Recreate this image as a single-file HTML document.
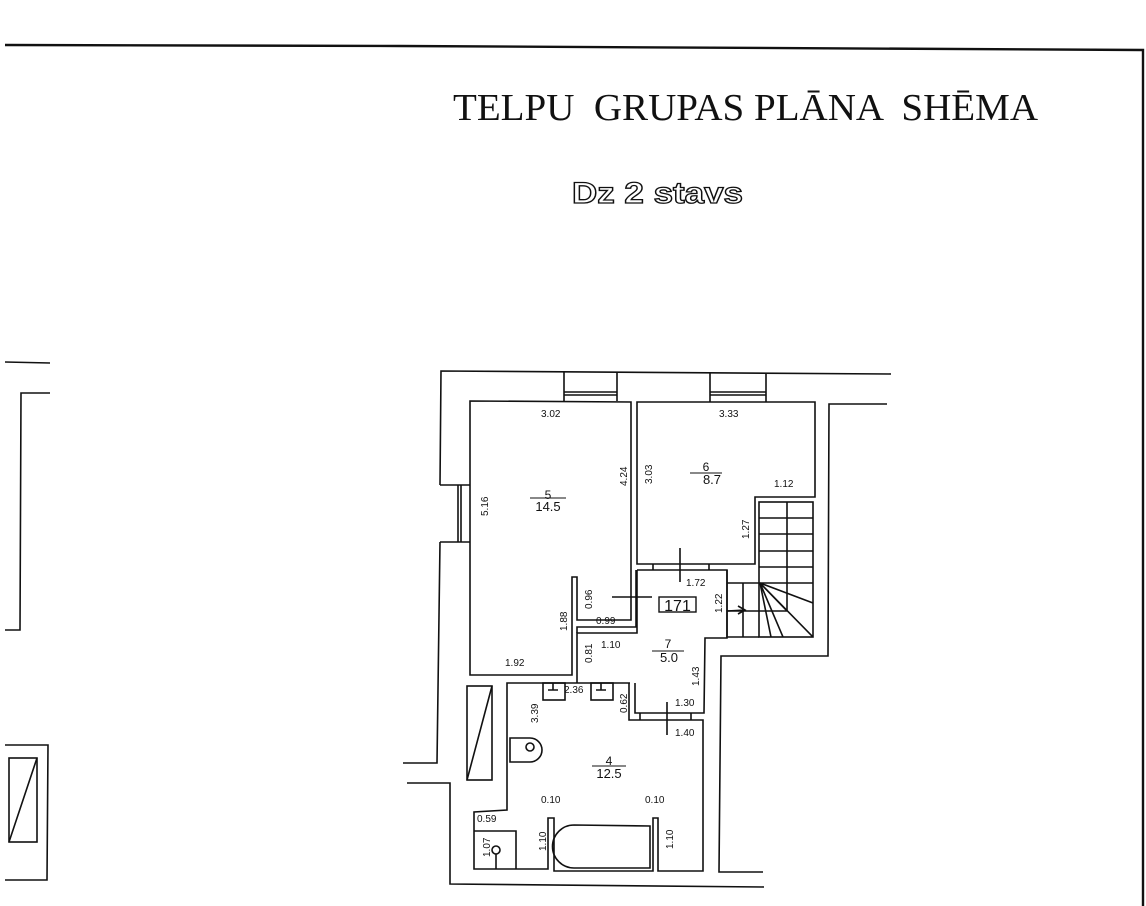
<!DOCTYPE html>
<html><head><meta charset="utf-8"><style>
html,body{margin:0;padding:0;background:#fff;}
svg{display:block;}
text{font-family:"Liberation Sans",sans-serif;}
</style></head><body>
<svg width="1146" height="906" viewBox="0 0 1146 906" xmlns="http://www.w3.org/2000/svg">
<g stroke="#111" fill="none" stroke-width="1.6">
<path d="M5 45 L400 46 L1143 50 L1143 906" stroke-width="2.4"/>
<path d="M5 362 L50 363"/>
<path d="M50 393 L21 393 L20 630 L5 630"/>
<path d="M5 745 L48 745 L47 880 L5 880"/>
<rect x="9" y="758" width="28" height="84"/>
<path d="M9 842 L37 758"/>
<path d="M891 374 L441 371 L440 485"/>
<path d="M440 542 L437 763 L403 763"/>
<path d="M407 783 L450 783 L450 884 L764 887"/>
<path d="M887 404 L829 404 L828 656 L721 656 L719 872 L763 872"/>
<path d="M440 485 L470 485 M440 542 L470 542 M458 485 L458 542 M461 485 L461 542"/>
<path d="M564 372 L564 401 M617 372 L617 401 M564 392 L617 392 M564 395 L617 395"/>
<path d="M710 373 L710 402 M766 373 L766 402 M710 392 L766 392 M710 395 L766 395"/>
<!-- room 5 -->
<path d="M470 401 L631 402 L631 620 L577 620 L577 577 L572 577 L572 675 L470 675 Z"/>
<path d="M636 570 L636 627 L577 627 L577 633"/>
<!-- room 6 -->
<path d="M637 402 L815 402 L815 497 L755 497 L755 564 L637 564 Z"/>
<path d="M653 564 L653 570 M709 564 L709 570"/>
<!-- room 7 -->
<path d="M637 570 L727 570 L727 638 L705 638 L704 713 L635 713 L635 683"/>
<path d="M637 570 L637 633 L577 633 L577 683"/>
<path d="M630 683 L507 683 L507 810 L474 812 L474 869 L548 869 L548 818 L554 818 L554 871 L653 871 L653 818 L658 818 L658 871 L703 871 L703 720 L629 720 L629 683"/>
<path d="M640 713 L640 720 M691 713 L691 720"/>
<rect x="543" y="683" width="22" height="17"/>
<rect x="591" y="683" width="22" height="17"/>
<path d="M548 690 L558 690 M553 683 L553 690 M596 690 L606 690 M601 683 L601 690"/>
<path d="M510 738 L530 738 A12 12 0 0 1 530 762 L510 762 Z"/>
<circle cx="530" cy="747" r="4"/>
<path d="M474 831 L516 831 L516 869"/>
<circle cx="496" cy="850" r="4"/>
<path d="M496 854 L496 869"/>
<path d="M574 825 L650 826 L650 868 L574 868 A21 21 0 0 1 574 825 Z"/>
<rect x="467" y="686" width="25" height="94"/>
<path d="M467 780 L492 686"/>
<rect x="759" y="502" width="54" height="135"/>
<path d="M759 518 L813 518 M759 534 L813 534 M759 551 L813 551 M759 567 L813 567 M727 583 L813 583 M787 502 L787 611 M727 611 L787 611 M743 583 L743 637 M727 570 L727 637 L759 637"/>
<path d="M760 583 L813 603 M760 583 L787 611 M760 583 L813 637 M760 583 L783 637 M760 583 L771 637"/>
<path d="M727 611 L745 610 M738 606 L745 610 L738 614"/>
<path d="M680 548 L680 582 M612 597 L652 597 M667 702 L667 735"/>
</g>
<rect x="659" y="597" width="37" height="15" fill="none" stroke="#111" stroke-width="1.4"/>
<text x="677.5" y="611" font-size="16" text-anchor="middle" style="fill:#111">171</text>
<text x="453" y="120" font-size="38" textLength="585" lengthAdjust="spacingAndGlyphs" xml:space="preserve" style="font-family:'Liberation Serif',serif;fill:#111">TELPU  GRUPAS PLĀNA  SHĒMA</text>
<text x="572" y="203" font-size="30" font-weight="bold" textLength="171" lengthAdjust="spacingAndGlyphs" style="fill:#fff;stroke:#111;stroke-width:1.3">Dz 2 stavs</text>
<g font-size="12" text-anchor="middle" style="fill:#111">
<text x="548" y="499">5</text><line x1="530" y1="498" x2="566" y2="498" stroke="#111"/><text x="548" y="511" font-size="13">14.5</text>
<text x="706" y="471">6</text><line x1="690" y1="473" x2="722" y2="473" stroke="#111"/><text x="712" y="484" font-size="13">8.7</text>
<text x="668" y="648">7</text><line x1="652" y1="651" x2="684" y2="651" stroke="#111"/><text x="669" y="662" font-size="13">5.0</text>
<text x="609" y="765">4</text><line x1="592" y1="766" x2="626" y2="766" stroke="#111"/><text x="609" y="778" font-size="13">12.5</text>
</g>
<g font-size="10" style="fill:#111">
<text x="541" y="417">3.02</text>
<text x="719" y="417">3.33</text>
<text x="774" y="487">1.12</text>
<text x="686" y="586">1.72</text>
<text x="596" y="624">0.99</text>
<text x="601" y="648">1.10</text>
<text x="505" y="666">1.92</text>
<text x="564" y="693">2.36</text>
<text x="675" y="706">1.30</text>
<text x="675" y="736">1.40</text>
<text x="541" y="803">0.10</text>
<text x="645" y="803">0.10</text>
<text x="477" y="822">0.59</text>
<text transform="translate(488,516) rotate(-90)">5.16</text>
<text transform="translate(627,486) rotate(-90)">4.24</text>
<text transform="translate(652,484) rotate(-90)">3.03</text>
<text transform="translate(749,539) rotate(-90)">1.27</text>
<text transform="translate(592,609) rotate(-90)">0.96</text>
<text transform="translate(567,631) rotate(-90)">1.88</text>
<text transform="translate(592,663) rotate(-90)">0.81</text>
<text transform="translate(722,613) rotate(-90)">1.22</text>
<text transform="translate(699,686) rotate(-90)">1.43</text>
<text transform="translate(538,723) rotate(-90)">3.39</text>
<text transform="translate(627,713) rotate(-90)">0.62</text>
<text transform="translate(490,857) rotate(-90)">1.07</text>
<text transform="translate(546,851) rotate(-90)">1.10</text>
<text transform="translate(673,849) rotate(-90)">1.10</text>
</g>
</svg>
</body></html>
